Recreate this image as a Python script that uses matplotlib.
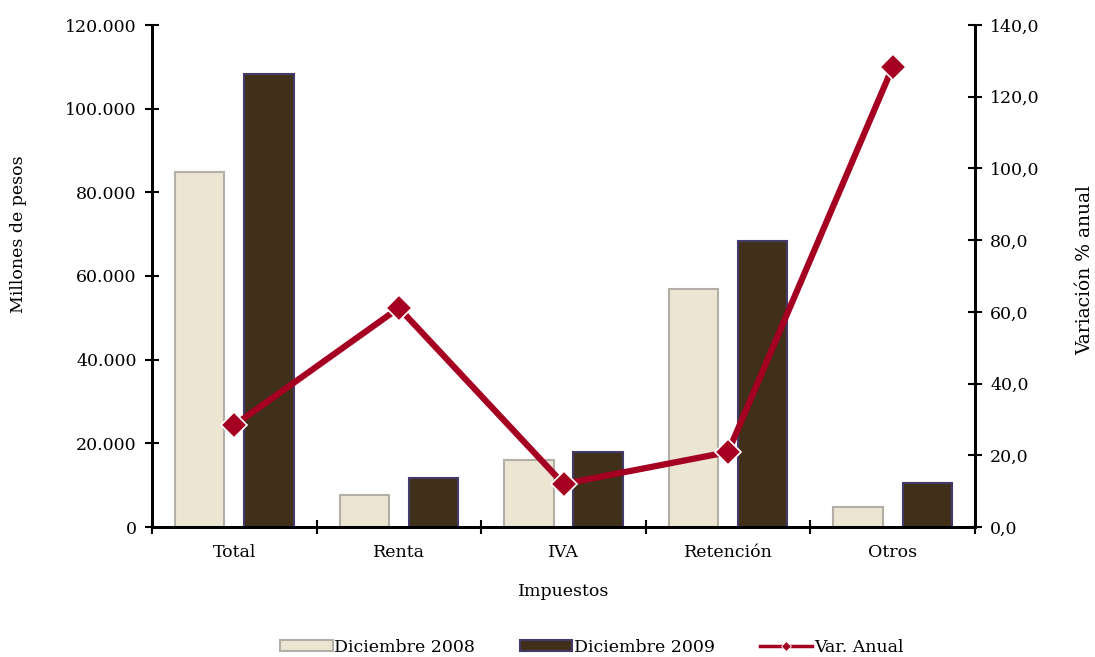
import matplotlib
matplotlib.use("Agg")
import matplotlib.pyplot as plt
import numpy as np
from matplotlib.ticker import FuncFormatter, FixedLocator
from matplotlib.lines import Line2D
from matplotlib.patches import Patch

categories = ["Total", "Renta", "IVA", "Retención", "Otros"]
dic_2008 = [84800, 7600, 16000, 56900, 4800]
dic_2009 = [108200, 11700, 17900, 68300, 10500]
var_anual = [28.4, 61.1, 12.0, 20.9, 128.3]

plt.rcParams['font.family'] = ['DejaVu Serif']

fig = plt.figure(figsize=(10.95, 6.57), dpi=100)
ax = fig.add_axes([152/1095, 1-527/657, (975-152)/1095, (527-25)/657])
ax2 = ax.twinx()

x = np.arange(len(categories))
w = 0.30
off = 0.21
b1 = ax.bar(x - off, dic_2008, w, color="#ebe5d1", edgecolor="#b3afa6", linewidth=1.5, label="Diciembre 2008", zorder=2)
b2 = ax.bar(x + off, dic_2009, w, color="#403019", edgecolor="#43396b", linewidth=1.5, label="Diciembre 2009", zorder=2)

ax2.plot(x, var_anual, color="#a50021", linewidth=4.5, marker="D", markersize=13,
         markerfacecolor="#a50021", markeredgecolor="white", markeredgewidth=1.2,
         label="Var. Anual", zorder=3)

ax.set_xlim(-0.5, 4.5)
ax.set_ylim(0, 120000)
ax2.set_ylim(0, 140)
ax.set_yticks(np.arange(0, 120001, 20000))
ax2.set_yticks(np.arange(0, 141, 20))
ax.yaxis.set_major_formatter(FuncFormatter(lambda v, p: f"{int(v):,}".replace(",", ".")))
ax2.yaxis.set_major_formatter(FuncFormatter(lambda v, p: f"{v:.1f}".replace(".", ",")))

ax.set_xticks(x)
ax.set_xticklabels(categories)
ax.tick_params(axis="x", which="major", length=0, pad=12, labelsize=12.5)
ax.xaxis.set_minor_locator(FixedLocator(np.arange(-0.5, 4.6, 1.0)))
ax.tick_params(axis="x", which="minor", direction="inout", length=10, width=1.5)
ax.tick_params(axis="y", direction="inout", length=10, width=1.5, labelsize=12.5, pad=6)
ax2.tick_params(axis="y", direction="inout", length=10, width=1.5, labelsize=12.5, pad=6)

for a in (ax, ax2):
    a.spines["top"].set_visible(False)
    for s in ("left", "right", "bottom"):
        a.spines[s].set_linewidth(2)

ax.set_xlabel("Impuestos", fontsize=12.5, labelpad=16)
ax.set_ylabel("Millones de pesos", fontsize=12.5, va="center")
ax2.set_ylabel("Variación % anual", fontsize=13.5, va="center")
ax.yaxis.set_label_coords((19 - 152) / 823, (527 - 234) / 502)
ax2.yaxis.set_label_coords((1085 - 152) / 823, (527 - 270) / 502)

handles = [Patch(facecolor="#ebe5d1", edgecolor="#b3afa6", linewidth=1.5),
           Patch(facecolor="#403019", edgecolor="#43396b", linewidth=1.5),
           Line2D([0], [0], color="#a50021", linewidth=2.5, marker="D", markersize=5,
                  markerfacecolor="#a50021", markeredgecolor="white", markeredgewidth=0.6)]
labels = ["Diciembre 2008", "Diciembre 2009", "Var. Anual"]
fig.legend(handles, labels, loc="center", bbox_to_anchor=(592/1095, 1-647/657), ncol=3,
           frameon=False, fontsize=12.5, handlelength=3.0, handleheight=0.6, handletextpad=0.1,
           columnspacing=2.6)

fig.savefig("out.png", dpi=100)
